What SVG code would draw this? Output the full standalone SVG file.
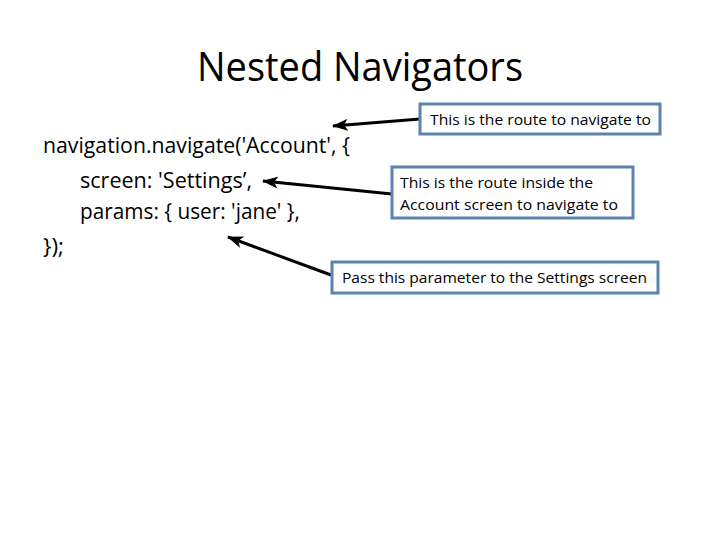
<svg xmlns="http://www.w3.org/2000/svg" width="720" height="540" viewBox="0 0 720 540">
<defs>
<style>
.t{font-family:"Open Sans",Lato,"Liberation Sans",sans-serif;fill:#000}
.title{font-size:41px}
.code{font-size:21.5px}
.lbl{font-size:15px}
.box{fill:#fff;stroke:#5b83b0;stroke-width:3}
.arr{stroke:#000;stroke-width:3;fill:none;marker-end:url(#ah)}
</style>
<marker id="ah" markerUnits="userSpaceOnUse" markerWidth="16" markerHeight="12" refX="15" refY="6" orient="auto">
<path d="M0,0 L16,6 L0,12 L4,6 Z" fill="#000"/>
</marker>
</defs>
<rect width="720" height="540" fill="#fff"/>
<g id="title"><text class="t title" x="197" y="81" textLength="326" lengthAdjust="spacingAndGlyphs">Nested Navigators</text></g>
<g id="code">
<text class="t code" x="43" y="153" textLength="307" lengthAdjust="spacingAndGlyphs">navigation.navigate('Account', {</text>
<text class="t code" x="80" y="188" textLength="172" lengthAdjust="spacingAndGlyphs">screen: 'Settings’,</text>
<text class="t code" x="80" y="219" textLength="220" lengthAdjust="spacingAndGlyphs">params: { user: 'jane' },</text>
<text class="t code" x="43" y="254" textLength="21" lengthAdjust="spacingAndGlyphs">});</text>
</g>
<g id="connectors">
<line class="arr" x1="420" y1="119" x2="333" y2="126"/>
<line class="arr" x1="392" y1="194" x2="263" y2="181"/>
<line class="arr" x1="331" y1="275" x2="228" y2="237"/>
</g>
<g id="box1">
<rect class="box" x="420" y="104" width="240" height="30"/>
<text class="t lbl" x="430" y="125" textLength="221" lengthAdjust="spacingAndGlyphs">This is the route to navigate to</text>
</g>
<g id="box2">
<rect class="box" x="392" y="167" width="241" height="51"/>
<text class="t lbl" x="400" y="188" textLength="193" lengthAdjust="spacingAndGlyphs">This is the route inside the</text>
<text class="t lbl" x="400" y="210" textLength="218" lengthAdjust="spacingAndGlyphs">Account screen to navigate to</text>
</g>
<g id="box3">
<rect class="box" x="332" y="262" width="326" height="31"/>
<text class="t lbl" x="342" y="283" textLength="305" lengthAdjust="spacingAndGlyphs">Pass this parameter to the Settings screen</text>
</g>
</svg>
